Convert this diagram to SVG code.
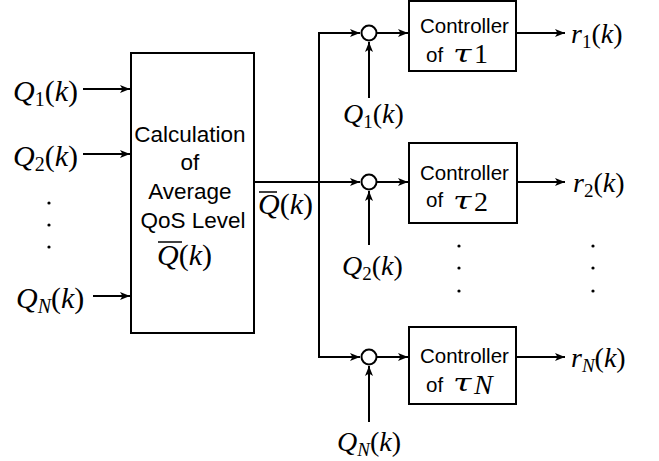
<svg xmlns="http://www.w3.org/2000/svg" width="659" height="461" viewBox="0 0 659 461">
<defs>
<style>
.box{fill:#fff;stroke:#000;stroke-width:2}
.ln{fill:none;stroke:#000;stroke-width:2}
.sum{fill:#fff;stroke:#000;stroke-width:2}
.sf{font-family:"Liberation Sans",Arial,sans-serif;fill:#000}
.m{font-family:"Liberation Serif","Times New Roman",serif;font-size:30px;fill:#000}
.mr{font-family:"Liberation Serif","Times New Roman",serif;font-size:28px;fill:#000}
.tau{font-family:"DejaVu Serif","Liberation Serif",serif;font-size:24px;fill:#000}
.i{font-style:italic}
.dot{fill:#000}
.bar{stroke:#000;stroke-width:1.5}
</style>
<marker id="ah" markerUnits="userSpaceOnUse" markerWidth="11" markerHeight="8" refX="10" refY="4" orient="auto">
<path d="M0,0 L10,4 L0,8 L2.5,4 z" fill="#000"/>
</marker>
</defs>
<rect width="659" height="461" fill="#fff"/>

<g id="connectors">
<path class="ln" d="M83,89 H130" marker-end="url(#ah)"/>
<path class="ln" d="M83,154 H130" marker-end="url(#ah)"/>
<path class="ln" d="M93,296 H130" marker-end="url(#ah)"/>
<path class="ln" d="M254,182 H360" marker-end="url(#ah)"/>
<path class="ln" d="M319,182 V33 H360" marker-end="url(#ah)"/>
<path class="ln" d="M319,182 V357 H360" marker-end="url(#ah)"/>
<path class="ln" d="M377,33 H408" marker-end="url(#ah)"/>
<path class="ln" d="M377,182 H408" marker-end="url(#ah)"/>
<path class="ln" d="M377,357 H408" marker-end="url(#ah)"/>
<path class="ln" d="M369,98 V42" marker-end="url(#ah)"/>
<path class="ln" d="M369,245 V191" marker-end="url(#ah)"/>
<path class="ln" d="M369,422 V366" marker-end="url(#ah)"/>
<path class="ln" d="M516,33 H565" marker-end="url(#ah)"/>
<path class="ln" d="M517,182 H565" marker-end="url(#ah)"/>
<path class="ln" d="M516,357 H565" marker-end="url(#ah)"/>
</g>

<g id="input-labels">
<text class="m" x="13" y="101"><tspan class="i">Q</tspan><tspan font-size="20" dy="5">1</tspan><tspan dy="-5">(</tspan><tspan class="i">k</tspan>)</text>
<text class="m" x="13" y="166"><tspan class="i">Q</tspan><tspan font-size="20" dy="5">2</tspan><tspan dy="-5">(</tspan><tspan class="i">k</tspan>)</text>
<text class="m" x="16" y="308"><tspan class="i">Q</tspan><tspan class="i" font-size="20" dy="5">N</tspan><tspan dy="-5">(</tspan><tspan class="i">k</tspan>)</text>
<circle class="dot" cx="49" cy="203" r="1.6"/>
<circle class="dot" cx="49" cy="225" r="1.6"/>
<circle class="dot" cx="49" cy="247" r="1.6"/>
</g>

<g id="calc">
<rect class="box" x="131" y="53" width="123" height="280"/>
<text class="sf" font-size="22.5" text-anchor="middle">
<tspan x="193" y="142">Calculation</tspan>
<tspan x="193" y="170">of</tspan>
<tspan x="193" y="199">Average</tspan>
<tspan x="193" y="228">QoS Level</tspan>
</text>
<text class="m" x="157" y="265"><tspan class="i">Q</tspan>(<tspan class="i">k</tspan>)</text>
<line class="bar" x1="158" y1="242" x2="182" y2="242"/>
</g>

<g id="avg-label">
<text class="m" x="258" y="214"><tspan class="i">Q</tspan>(<tspan class="i">k</tspan>)</text>
<line class="bar" x1="259" y1="192" x2="277" y2="192"/>
</g>

<g id="sum1"><circle class="sum" cx="369" cy="33" r="7.5"/></g>
<g id="sum2"><circle class="sum" cx="369" cy="182" r="7.5"/></g>
<g id="sumN"><circle class="sum" cx="369" cy="357" r="7.5"/></g>

<g id="q-labels">
<text class="mr" x="343" y="123"><tspan class="i">Q</tspan><tspan font-size="19" dy="5">1</tspan><tspan dy="-5">(</tspan><tspan class="i">k</tspan>)</text>
<text class="mr" x="342" y="275"><tspan class="i">Q</tspan><tspan font-size="19" dy="5">2</tspan><tspan dy="-5">(</tspan><tspan class="i">k</tspan>)</text>
<text class="mr" x="337" y="451"><tspan class="i">Q</tspan><tspan class="i" font-size="19" dy="5">N</tspan><tspan dy="-5">(</tspan><tspan class="i">k</tspan>)</text>
</g>

<g id="ctrl1">
<rect class="box" x="409" y="1" width="107" height="70"/>
<text class="sf" font-size="20.5" x="420" y="33">Controller</text>
<text class="sf" font-size="20.5" x="426" y="62">of</text>
<text class="tau i" transform="translate(453,62) scale(1.4,1)">τ</text>
<text class="mr" font-size="21" x="474" y="63">1</text>
</g>

<g id="ctrl2">
<rect class="box" x="409" y="143" width="108" height="80"/>
<text class="sf" font-size="20.5" x="420" y="180">Controller</text>
<text class="sf" font-size="20.5" x="426" y="207">of</text>
<text class="tau i" transform="translate(453,209) scale(1.4,1)">τ</text>
<text class="mr" font-size="22" x="474" y="211">2</text>
</g>

<g id="ctrlN">
<rect class="box" x="409" y="327" width="107" height="77"/>
<text class="sf" font-size="20.5" x="420" y="363">Controller</text>
<text class="sf" font-size="20.5" x="426" y="392">of</text>
<text class="tau i" transform="translate(453,391) scale(1.4,1)">τ</text>
<text class="mr i" font-size="21" x="474" y="394">N</text>
</g>

<g id="dots-right">
<circle class="dot" cx="459" cy="246" r="1.6"/>
<circle class="dot" cx="459" cy="268" r="1.6"/>
<circle class="dot" cx="459" cy="291" r="1.6"/>
<circle class="dot" cx="593" cy="246" r="1.6"/>
<circle class="dot" cx="593" cy="268" r="1.6"/>
<circle class="dot" cx="593" cy="291" r="1.6"/>
</g>

<g id="outputs">
<text class="mr" x="571" y="43"><tspan class="i">r</tspan><tspan font-size="19" dy="5">1</tspan><tspan dy="-5">(</tspan><tspan class="i">k</tspan>)</text>
<text class="mr" x="573" y="192"><tspan class="i">r</tspan><tspan font-size="19" dy="5">2</tspan><tspan dy="-5">(</tspan><tspan class="i">k</tspan>)</text>
<text class="mr" x="571" y="367"><tspan class="i">r</tspan><tspan class="i" font-size="19" dy="5">N</tspan><tspan dy="-5">(</tspan><tspan class="i">k</tspan>)</text>
</g>
</svg>
